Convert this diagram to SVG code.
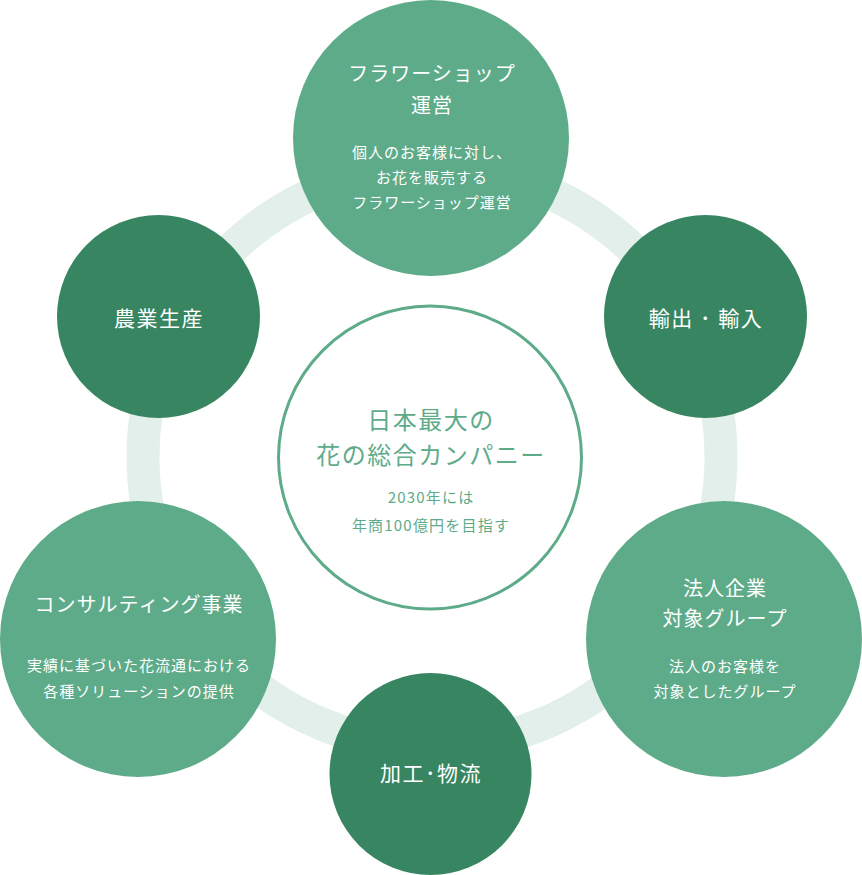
<svg xmlns="http://www.w3.org/2000/svg" width="862" height="875" viewBox="0 0 862 875">
<style>
text{font-family:"Noto Sans CJK JP","Noto Sans",sans-serif;text-anchor:middle;}
.mid{fill:#5eab89;}
.dark{fill:#378561;}
.t{fill:#ffffff;font-size:20px;letter-spacing:1px;}
.s{fill:#ffffff;font-size:15px;letter-spacing:1px;}
.sm{fill:#ffffff;font-size:21px;letter-spacing:1.5px;}
.ct{fill:#5eab89;font-size:24px;letter-spacing:1.5px;}
.cs{fill:#5eab89;font-size:15px;letter-spacing:1.2px;}
</style>
<rect width="862" height="875" fill="#ffffff"/>
<g id="connectors">
<circle cx="432" cy="457" r="289" fill="none" stroke="#e2efeb" stroke-width="33"/>
</g>
<g id="center">
<circle cx="430" cy="457.5" r="151.5" fill="#ffffff" stroke="#5eab89" stroke-width="3"/>
<text class="ct" x="431" y="429">日本最大の</text>
<text class="ct" x="431" y="464">花の総合カンパニー</text>
<text class="cs" x="431" y="503">2030年には</text>
<text class="cs" x="431" y="531">年商100億円を目指す</text>
</g>
<g id="flower-shop">
<circle class="mid" cx="431" cy="138" r="138"/>
<text class="t" x="432" y="81">フラワーショップ</text>
<text class="t" x="432" y="113">運営</text>
<text class="s" x="432" y="158">個人のお客様に対し、</text>
<text class="s" x="432" y="183">お花を販売する</text>
<text class="s" x="432" y="208">フラワーショップ運営</text>
</g>
<g id="agriculture">
<circle class="dark" cx="158.5" cy="316.5" r="101.5"/>
<text class="sm" x="159" y="326">農業生産</text>
</g>
<g id="trade">
<circle class="dark" cx="705.5" cy="316.5" r="101.5"/>
<text class="sm" x="706" y="326">輸出 ･ 輸入</text>
</g>
<g id="corporate">
<circle class="mid" cx="724" cy="639" r="138"/>
<text class="t" x="725" y="596">法人企業</text>
<text class="t" x="725" y="626">対象グループ</text>
<text class="s" x="725" y="672">法人のお客様を</text>
<text class="s" x="725" y="697">対象としたグループ</text>
</g>
<g id="consulting">
<circle class="mid" cx="138" cy="639" r="138"/>
<text class="t" x="139" y="612">コンサルティング事業</text>
<text class="s" x="139" y="671">実績に基づいた花流通における</text>
<text class="s" x="139" y="697">各種ソリューションの提供</text>
</g>
<g id="logistics">
<circle class="dark" cx="430.5" cy="774" r="101"/>
<text class="sm" x="431" y="781">加工･物流</text>
</g>
</svg>
